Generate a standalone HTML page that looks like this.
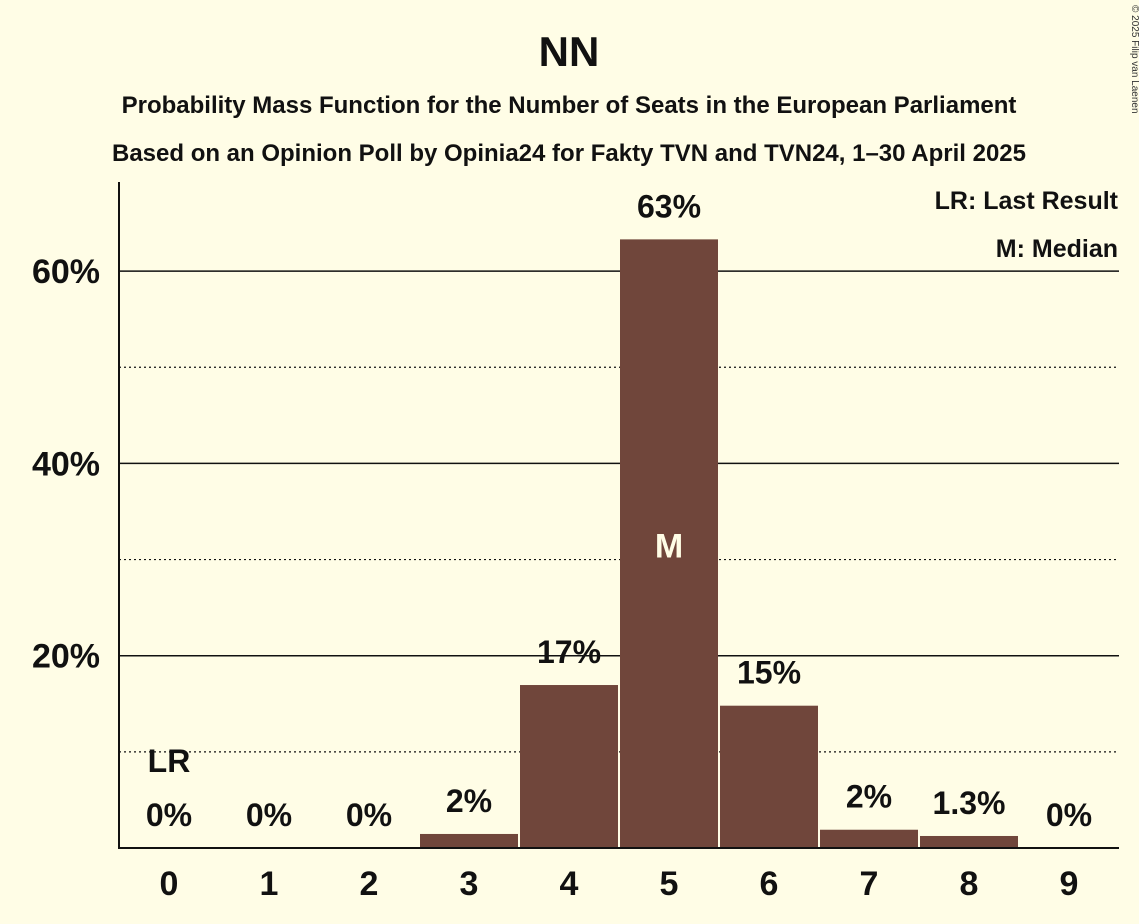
<!DOCTYPE html>
<html><head><meta charset="utf-8"><style>
body{margin:0;background:#fffde6;}
svg{display:block;font-family:"Liberation Sans",sans-serif;}
</style></head><body>
<svg id="chart" width="1139" height="924" viewBox="0 0 1139 924">
<rect width="1139" height="924" fill="#fffde6"/>
<text x="569" y="66" text-anchor="middle" font-size="42" font-weight="bold" fill="#111">NN</text>
<text x="569" y="113" text-anchor="middle" font-size="24" font-weight="bold" fill="#111">Probability Mass Function for the Number of Seats in the European Parliament</text>
<text x="569" y="161" text-anchor="middle" font-size="24" font-weight="bold" fill="#111">Based on an Opinion Poll by Opinia24 for Fakty TVN and TVN24, 1–30 April 2025</text>
<text x="1132" y="5" font-size="10" fill="#333" transform="rotate(90 1132 5)">© 2025 Filip van Laenen</text>
<g id="grid"></g>
<g id="bars"></g>
<g id="labels"></g>
<line x1="119" y1="182" x2="119" y2="849" stroke="#111" stroke-width="2"/>
<line x1="118" y1="848" x2="1119" y2="848" stroke="#111" stroke-width="2"/>
<text x="1118" y="209" text-anchor="end" font-size="25" font-weight="bold" fill="#111">LR: Last Result</text>
<text x="1118" y="257" text-anchor="end" font-size="25" font-weight="bold" fill="#111">M: Median</text>
</svg>
<script>
const categories=[0,1,2,3,4,5,6,7,8,9];
const values=[0,0,0,1.46,16.95,63.3,14.8,1.9,1.25,0];
const valueLabels=["0%","0%","0%","2%","17%","63%","15%","2%","1.3%","0%"];
const yTicks=[20,40,60];
const yMinor=[10,30,50];
const tickLabels=["20%","40%","60%"];
const lastResultIndex=0;
const medianIndex=5;
const NS="http://www.w3.org/2000/svg";
const y=v=>848-v*9.615;
const x=i=>169+i*100;
function mk(tag,attrs,parent,txt){const e=document.createElementNS(NS,tag);for(const k in attrs)e.setAttribute(k,attrs[k]);if(txt!==undefined)e.textContent=txt;parent.appendChild(e);return e;}
const grid=document.getElementById('grid'),bars=document.getElementById('bars'),labels=document.getElementById('labels');
yMinor.forEach(v=>{const l=mk('line',{x1:119,x2:1119,y1:y(v),y2:y(v),stroke:'#111','stroke-width':1.2,'stroke-dasharray':'2,3'},grid);

});
yTicks.forEach((v,i)=>{const l=mk('line',{x1:119,x2:1119,y1:y(v),y2:y(v),stroke:'#111','stroke-width':1.5},grid);


const t=mk('text',{x:100,y:y(v)+12,'text-anchor':'end','font-size':34,'font-weight':'bold',fill:'#111'},grid,tickLabels[i]);

});
categories.forEach((c,i)=>{
const v=values[i];
if(v>0){const r=mk('rect',{x:x(i)-49,y:y(v),width:98,height:848-y(v),fill:'#70463b'},bars);

}
const vl=mk('text',{x:x(i),y:y(v)-22,'text-anchor':'middle','font-size':32,'font-weight':'bold',fill:'#111'},labels,valueLabels[i]);


const xt=mk('text',{x:x(i),y:895,'text-anchor':'middle','font-size':34,'font-weight':'bold',fill:'#111'},labels,String(c));


});
const lr=mk('text',{x:x(lastResultIndex),y:y(values[lastResultIndex])-76,'text-anchor':'middle','font-size':32,'font-weight':'bold',fill:'#111'},labels,'LR');


const m=mk('text',{x:x(medianIndex),y:y(values[medianIndex]/2)+14,'text-anchor':'middle','font-size':34,'font-weight':'bold',fill:'#fffde6'},labels,'M');


</script>
</body></html>
